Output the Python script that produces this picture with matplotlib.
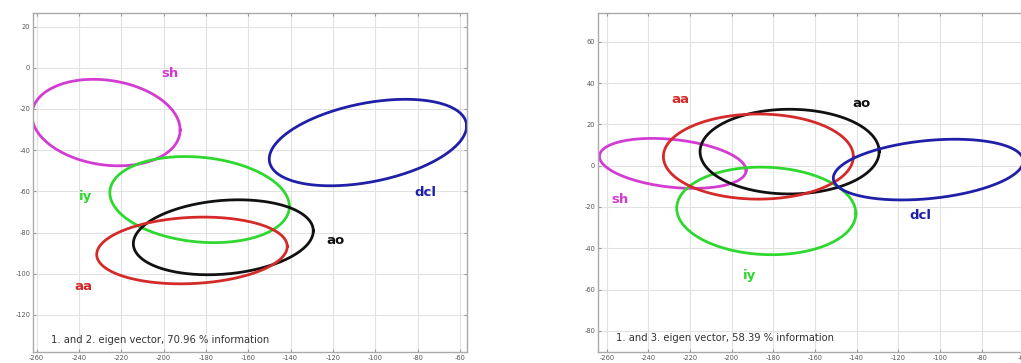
import numpy as np
import matplotlib.pyplot as plt

plt.rcParams['axes.unicode_minus'] = False

# class ellipses: centre, half extents in x/y, and correlation (tilt)
phonemes = ['sh', 'iy', 'ao', 'aa', 'dcl']
colors = ['#d23cd2', '#2fd82f', '#111111', '#d42a2a', '#1f1fa8']

# projection onto eigen vectors 1 and 2
cx12 = [-227.2, -183.0, -171.8, -186.6, -103.5]
cy12 = [-26.6, -64.0, -82.3, -88.7, -36.3]
rx12 = [35.0, 42.4, 42.5, 45.0, 46.6]
ry12 = [21.0, 20.9, 18.2, 16.2, 21.0]
rho12 = [-0.17, -0.16, 0.17, 0.12, 0.38]
lx12 = [-197, -237, -119, -238, -76.5]
ly12 = [-2.7, -62.5, -84, -106, -60.6]

# projection onto eigen vectors 1 and 3
cx13 = [-228.3, -183.4, -172.2, -187.2, -105.6]
cy13 = [1.1, -21.9, 6.8, 4.4, -1.9]
rx13 = [35.2, 43.0, 43.0, 45.6, 45.6]
ry13 = [12.1, 21.2, 20.5, 20.6, 14.7]
rho13 = [-0.28, -0.06, 0.0, 0.0, 0.28]
lx13 = [-253.6, -191.5, -137.6, -224.8, -109.6]
ly13 = [-16.6, -53.4, 30.2, 31.8, -23.9]

info = ['1. and 2. eigen vector, 70.96 % information',
        '1. and 3. eigen vector, 58.39 % information']

fig = plt.figure(figsize=(10.21, 3.63), dpi=100)
ax1 = fig.add_axes([0.0323, 0.0303, 0.4251, 0.9339])
ax2 = fig.add_axes([0.5857, 0.0303, 0.4251, 0.9339])

t = np.linspace(0, 2 * np.pi, 300)


def draw(ax, cx, cy, rx, ry, rho, lx, ly, note, xlim, ylim, yticks, note_xy):
    for i, name in enumerate(phonemes):
        x = cx[i] + rx[i] * np.cos(t)
        y = cy[i] + ry[i] * (rho[i] * np.cos(t) + np.sqrt(1 - rho[i] ** 2) * np.sin(t))
        ax.plot(x, y, color=colors[i], lw=2.0)
        ax.text(lx[i], ly[i], name, color=colors[i], fontsize=9.5,
                fontweight='bold', ha='center', va='center')
    ax.text(note_xy[0], note_xy[1], note, fontsize=7.2, color='#333333',
            ha='left', va='center')
    ax.set_xlim(*xlim)
    ax.set_ylim(*ylim)
    ax.set_xticks(np.arange(-260, -59, 20))
    ax.set_yticks(yticks)
    ax.grid(True, color='#e2e2e2', lw=0.8)
    ax.tick_params(labelsize=4.8, colors='#999999', labelcolor='#555555',
                   direction='in', length=2.5, top=True, right=True, pad=2)
    for s in ax.spines.values():
        s.set_color('#aaaaaa')
        s.set_linewidth(1.0)


draw(ax1, cx12, cy12, rx12, ry12, rho12, lx12, ly12, info[0],
     (-261.7, -56.7), (-138, 26.6), np.arange(-120, 21, 20), (-253, -132))
draw(ax2, cx13, cy13, rx13, ry13, rho13, lx13, ly13, info[1],
     (-264.2, -55.8), (-90.2, 73.9), np.arange(-80, 61, 20), (-255.5, -83.5))

fig.savefig('out.png', dpi=100)
